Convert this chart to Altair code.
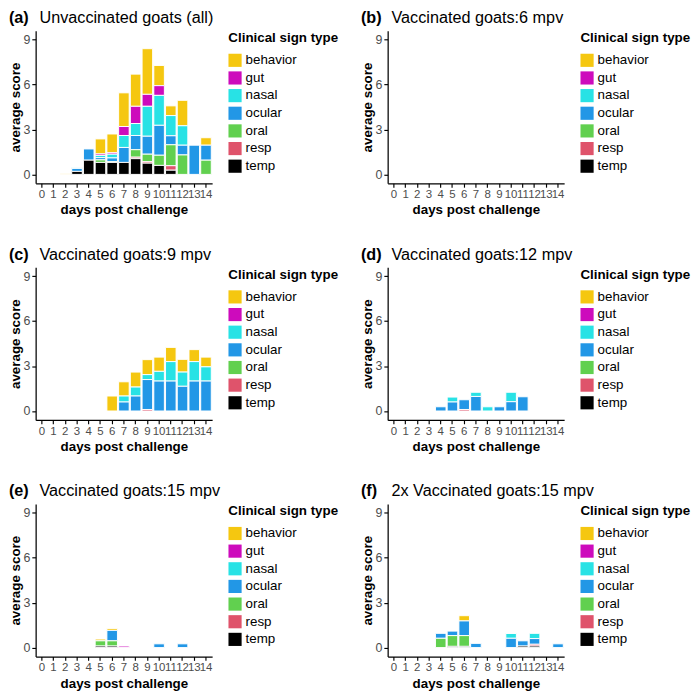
import altair as alt
import pandas as pd

days = list(range(15))
categories = ["behavior", "gut", "nasal", "ocular", "oral", "resp", "temp"]
palette = ["#F5C710", "#CD0BBC", "#28E2E5", "#2297E6", "#61D04F", "#DF536B", "#000000"]
# bottom-to-top stacking order
stack_order = ["temp", "resp", "oral", "ocular", "nasal", "gut", "behavior"]

letters = ["(a)", "(b)", "(c)", "(d)", "(e)", "(f)"]
titles = [
    "Unvaccinated goats (all)",
    "Vaccinated goats:6 mpv",
    "Vaccinated goats:9 mpv",
    "Vaccinated goats:12 mpv",
    "Vaccinated goats:15 mpv",
    "2x Vaccinated goats:15 mpv",
]

# average score per clinical sign type, days 0..14
panel_a = {
    "temp":     [0, 0, 0, 0.2, 0.95, 0.8, 0.8, 0.8, 1.05, 0.75, 0.6, 0.28, 0, 0, 0],
    "resp":     [0, 0, 0, 0, 0, 0, 0, 0, 0.1, 0.1, 0, 0.3, 0, 0, 0],
    "oral":     [0, 0, 0, 0, 0, 0.17, 0.05, 0, 0.5, 0.5, 0.68, 1.4, 1.3, 0, 0.95],
    "ocular":   [0, 0, 0, 0.2, 0.75, 0.15, 0.25, 1.0, 0.95, 1.2, 2.0, 0.6, 0.65, 1.95, 1.0],
    "nasal":    [0, 0, 0, 0.05, 0, 0.15, 0.25, 0.8, 0.8, 2.0, 2.0, 1.35, 1.3, 0, 0],
    "gut":      [0, 0, 0, 0, 0, 0.1, 0.1, 0.6, 1.15, 0.8, 0.65, 0, 0, 0, 0],
    "behavior": [0, 0, 0.05, 0, 0, 1.0, 1.25, 2.25, 2.15, 3.05, 1.35, 0.65, 1.7, 0, 0.5],
}
panel_b = {}
panel_c = {
    "resp":     [0, 0, 0, 0, 0, 0, 0, 0, 0, 0.1, 0, 0, 0, 0, 0],
    "ocular":   [0, 0, 0, 0, 0, 0, 0, 0.6, 1.0, 2.0, 2.0, 2.0, 1.65, 2.0, 2.0],
    "nasal":    [0, 0, 0, 0, 0, 0, 0, 0.4, 0.6, 0.33, 0.65, 1.3, 0.95, 1.3, 0.95],
    "behavior": [0, 0, 0, 0, 0, 0, 1.0, 0.95, 1.0, 1.0, 0.95, 0.95, 0.85, 0.8, 0.65],
}
panel_d = {
    "resp":     [0, 0, 0, 0, 0, 0, 0.1, 0, 0, 0, 0, 0, 0, 0, 0],
    "ocular":   [0, 0, 0, 0, 0.28, 0.6, 0.65, 0.97, 0, 0.28, 0.62, 0.95, 0, 0, 0],
    "nasal":    [0, 0, 0, 0, 0, 0.33, 0, 0.28, 0.28, 0, 0.63, 0, 0, 0, 0],
}
panel_e = {
    "temp":     [0, 0, 0, 0, 0, 0.1, 0.1, 0, 0, 0, 0, 0, 0, 0, 0],
    "gut":      [0, 0, 0, 0, 0, 0, 0, 0.1, 0, 0, 0, 0, 0, 0, 0],
    "oral":     [0, 0, 0, 0, 0, 0.35, 0.35, 0, 0, 0, 0, 0, 0, 0, 0],
    "ocular":   [0, 0, 0, 0, 0, 0, 0.7, 0, 0, 0, 0.25, 0, 0.25, 0, 0],
    "behavior": [0, 0, 0, 0, 0, 0.12, 0.13, 0, 0, 0, 0, 0, 0, 0, 0],
}
panel_f = {
    "temp":     [0, 0, 0, 0, 0, 0.08, 0.08, 0, 0, 0, 0, 0.1, 0.1, 0, 0],
    "resp":     [0, 0, 0, 0, 0, 0, 0, 0, 0, 0, 0, 0, 0.12, 0, 0],
    "oral":     [0, 0, 0, 0, 0.62, 0.72, 0.72, 0, 0, 0, 0, 0, 0, 0, 0],
    "ocular":   [0, 0, 0, 0, 0.33, 0.3, 0.98, 0.28, 0, 0, 0.62, 0.35, 0.38, 0, 0.25],
    "nasal":    [0, 0, 0, 0, 0, 0, 0, 0, 0, 0, 0.32, 0, 0.35, 0, 0],
    "behavior": [0, 0, 0, 0, 0, 0, 0.35, 0, 0, 0, 0, 0, 0, 0, 0],
}
panels = [panel_a, panel_b, panel_c, panel_d, panel_e, panel_f]

FONT = "Liberation Sans"
W, H = 185, 160


def make_df(values):
    rows = []
    for c in categories:
        vals = values.get(c, [0] * len(days))
        for d, v in zip(days, vals):
            rows.append({"day": d, "sign": c, "score": v, "rank": stack_order.index(c)})
    return pd.DataFrame(rows)


def make_panel(letter, title, values):
    df = make_df(values)
    bars = alt.Chart(df).transform_filter("datum.score > 0").mark_bar(
        stroke="white", strokeWidth=1
    ).encode(
        x=alt.X("day:O", scale=alt.Scale(domain=days, paddingInner=0.1, paddingOuter=0.075),
                axis=alt.Axis(title="days post challenge", labelAngle=0)),
        y=alt.Y("sum(score):Q", stack="zero",
                scale=alt.Scale(domain=[-0.6, 9.6], nice=False, zero=False),
                axis=alt.Axis(title="average score", values=[0, 3, 6, 9])),
        color=alt.Color("sign:N", scale=alt.Scale(domain=categories, range=palette),
                        legend=alt.Legend(title="Clinical sign type")),
        order=alt.Order("rank:Q", sort="ascending"),
    )
    lab = alt.Chart(pd.DataFrame({"t": [letter]})).mark_text(
        align="left", baseline="alphabetic", fontSize=17, fontWeight="bold", font=FONT, color="black"
    ).encode(text="t:N", x=alt.value(-28), y=alt.value(-8))
    ttl = alt.Chart(pd.DataFrame({"t": [title]})).mark_text(
        align="left", baseline="alphabetic", fontSize=17, font=FONT, color="black"
    ).encode(text="t:N", x=alt.value(4), y=alt.value(-8))
    return alt.layer(bars, lab, ttl).properties(width=W, height=H)


charts = [make_panel(l, t, p) for l, t, p in zip(letters, titles, panels)]

chart = alt.concat(*charts, columns=2, spacing={"row": 31, "column": 21}).resolve_scale(
    color="independent"
).properties(
    padding={"left": 0, "top": -15, "right": 0, "bottom": 0}
).configure(font=FONT).configure_view(stroke=None).configure_axis(
    grid=False,
    domainColor="black", domainWidth=1.3,
    tickColor="black", tickWidth=1.2, tickSize=4,
    labelColor="#4D4D4D", labelFontSize=13, labelFont=FONT,
    titleColor="black", titleFontSize=14, titleFontWeight="bold", titleFont=FONT,
    titlePadding=1, labelPadding=2,
).configure_axisX(labelFontSize=12, titlePadding=4).configure_legend(
    titleFontSize=14, titleFontWeight="bold", titleColor="black", titleFont=FONT,
    labelFontSize=14, labelColor="black", labelFont=FONT,
    symbolType="square", symbolSize=190, symbolStrokeWidth=0, symbolOpacity=1,
    rowPadding=4.5, labelOffset=4, titlePadding=9, offset=16, padding=1,
)

chart.save("out.html", embed_options={"renderer": "svg", "actions": False})
